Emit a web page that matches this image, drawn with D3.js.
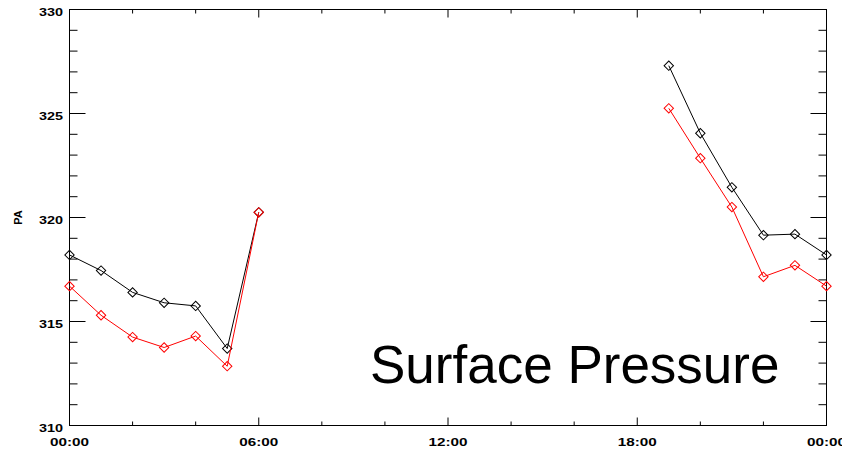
<!DOCTYPE html>
<html lang="en">
<head>
  <meta charset="UTF-8">
  <title>Surface Pressure</title>
  <script src="https://d3js.org/d3.v7.min.js"></script>
  <style>
    body { margin: 0; background: #fff; }
    svg { display: block; }
    .lbl { font-family: "Liberation Sans", Arial, sans-serif; font-weight: bold; font-size: 11px; fill: #000; }
  </style>
</head>
<body>
<svg id="chart" width="842" height="451"></svg>
<script>
  // hours since 00:00, null where there is no data
  const hours = [0, 1, 2, 3, 4, 5, 6, 7, 8, 9, 10, 11, 12, 13, 14, 15, 16, 17, 18, 19, 20, 21, 22, 23, 24];
  const blackSeries = [318.2, 317.45, 316.4, 315.9, 315.75, 313.7, 320.25,
    null, null, null, null, null, null, null, null, null, null, null, null,
    327.3, 324.05, 321.45, 319.15, 319.2, 318.2];
  const redSeries = [316.7, 315.3, 314.25, 313.75, 314.3, 312.85, 320.25,
    null, null, null, null, null, null, null, null, null, null, null, null,
    325.25, 322.85, 320.5, 317.15, 317.7, 316.7];

  const xMajor = [0, 6, 12, 18, 24];
  const xMinor = [2, 4, 8, 10, 14, 16, 20, 22];
  const xLabels = ["00:00", "06:00", "12:00", "18:00", "00:00"];
  const yMajor = [310, 315, 320, 325, 330];
  const yMinor = [311, 312, 313, 314, 316, 317, 318, 319, 321, 322, 323, 324, 326, 327, 328, 329];

  const svg = d3.select("#chart");
  const x = d3.scaleLinear().domain([0, 24]).range([69.5, 826.5]);
  const y = d3.scaleLinear().domain([310, 330]).range([425.5, 9.5]);

  // frame
  svg.append("rect")
    .attr("x", x(0)).attr("y", y(330))
    .attr("width", x(24) - x(0)).attr("height", y(310) - y(330))
    .attr("fill", "none").attr("stroke", "#000").attr("stroke-width", 1);

  const ticks = svg.append("g").attr("stroke", "#000").attr("stroke-width", 1);

  // x ticks on bottom and top, pointing inward
  function xTick(h, len) {
    ticks.append("line").attr("x1", x(h)).attr("x2", x(h)).attr("y1", y(310)).attr("y2", y(310) - len);
    ticks.append("line").attr("x1", x(h)).attr("x2", x(h)).attr("y1", y(330)).attr("y2", y(330) + len);
  }
  xMajor.forEach(h => xTick(h, 8));
  xMinor.forEach(h => xTick(h, 4));

  // y ticks on left and right
  function yTick(v, len) {
    ticks.append("line").attr("x1", x(0)).attr("x2", x(0) + len).attr("y1", y(v)).attr("y2", y(v));
    ticks.append("line").attr("x1", x(24)).attr("x2", x(24) - len).attr("y1", y(v)).attr("y2", y(v));
  }
  yMajor.forEach(v => yTick(v, 16));
  yMinor.forEach(v => yTick(v, 8));

  // tick labels
  svg.selectAll(".xl").data(xMajor).join("text")
    .attr("class", "lbl")
    .attr("x", (d) => x(d) - 19.5)
    .attr("y", 445.7)
    .attr("textLength", 39)
    .attr("lengthAdjust", "spacingAndGlyphs")
    .text((d, i) => xLabels[i]);

  svg.selectAll(".yl").data(yMajor).join("text")
    .attr("class", "lbl")
    .attr("x", 39)
    .attr("y", (d) => y(d) + 6.5)
    .attr("textLength", 24)
    .attr("lengthAdjust", "spacingAndGlyphs")
    .text((d) => d);

  svg.append("text")
    .attr("class", "lbl")
    .attr("transform", "translate(22," + ((y(310) + y(330)) / 2) + ") rotate(-90)")
    .attr("text-anchor", "middle")
    .text("PA");

  // series
  function drawSeries(values, color) {
    const pts = hours.map((h, i) => ({ h: h, v: values[i] }));
    const line = d3.line()
      .defined((d) => d.v !== null)
      .x((d) => x(d.h))
      .y((d) => y(d.v));
    svg.append("path")
      .datum(pts)
      .attr("d", line)
      .attr("fill", "none")
      .attr("stroke", color)
      .attr("stroke-width", 1);
    const sym = d3.symbol().type(d3.symbolSquare).size(44);
    svg.append("g").selectAll("path")
      .data(pts.filter((d) => d.v !== null))
      .join("path")
      .attr("d", sym)
      .attr("transform", (d) => "translate(" + x(d.h) + "," + y(d.v) + ") rotate(45)")
      .attr("fill", "none")
      .attr("stroke", color)
      .attr("stroke-width", 1);
  }
  drawSeries(blackSeries, "#000");
  drawSeries(redSeries, "#ff0000");

  svg.append("text")
    .attr("x", 370)
    .attr("y", 382.7)
    .attr("font-family", "'Liberation Sans', Arial, sans-serif")
    .attr("font-size", 53)
    .attr("fill", "#000")
    .text("Surface Pressure");
</script>
</body>
</html>
